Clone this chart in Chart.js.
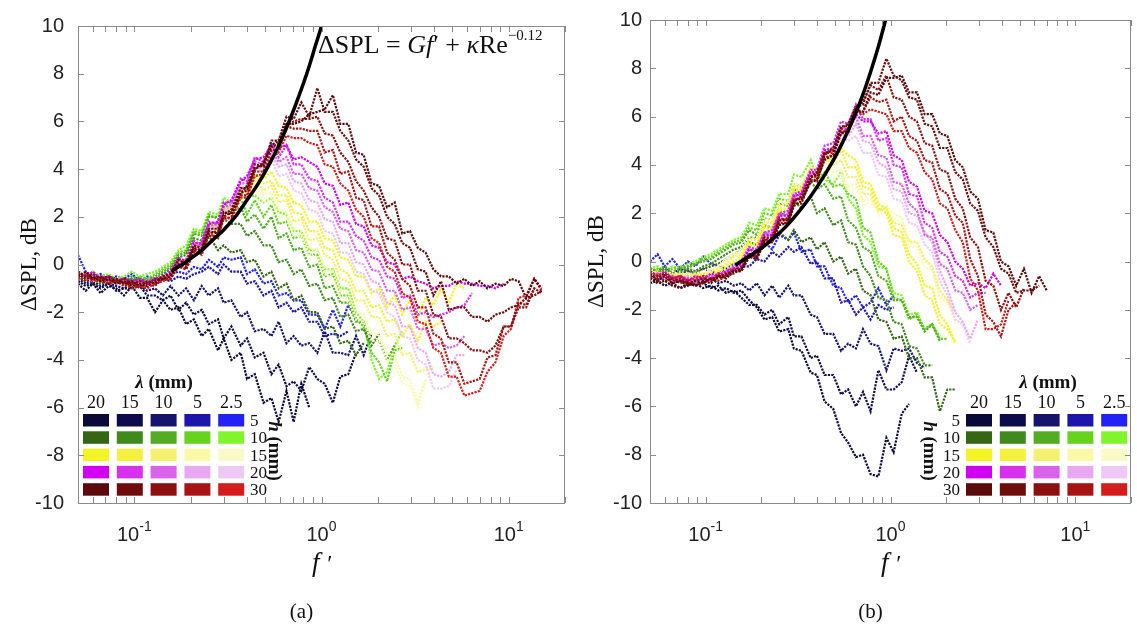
<!DOCTYPE html>
<html>
<head>
<meta charset="utf-8">
<script src="https://cdn.jsdelivr.net/npm/chart.js@4.4.1/dist/chart.umd.min.js"></script>
<style>
  body { margin: 0; background: #fff; }
  #wrap { position: relative; width: 1137px; height: 625px; }
  canvas { position: absolute; top: 0; }
</style>
</head>
<body>
<div id="wrap">
  <canvas id="chartA" width="575" height="625" style="left:0"></canvas>
  <canvas id="chartB" width="562" height="625" style="left:575px"></canvas>
</div>
<script>
// f' sample points shared by every measured curve
var fGrid = [0.05,0.055,0.06,0.066,0.073,0.08,0.088,0.097,0.107,0.117,0.129,0.142,0.156,0.172,0.189,0.208,0.229,0.25,0.28,0.30,0.33,0.37,0.40,0.44,0.49,0.54,0.59,0.65,0.71,0.78,0.86,0.95,1.04,1.15,1.26,1.39,1.53,1.68,1.85,2.03,2.24,2.46,2.7,2.97,3.27,3.6,3.96,4.35,4.79,5.27,5.8,6.37,7.0,7.7,8.5,9.4,10.3,11.3,12.4,13.7,15.0];

var lambdaLabels = ['20', '15', '10', '5', '2.5'];
var hLabels = ['5', '10', '15', '20', '30'];
var xTickVals = [0.05,0.06,0.07,0.08,0.09,0.1,0.2,0.3,0.4,0.5,0.6,0.7,0.8,0.9,1,2,3,4,5,6,7,8,9,10,20];
var xLabelVals = [0.1, 1, 10];
var xLabelExp = ['-1', '0', '1'];

// ---- panel (a) ----
var a_h5_l20 = [-0.8,-1.1,-0.8,-1.2,-0.9,-1.0,-1.3,-0.9,-1.4,-1.4,-2.0,-1.5,-1.9,-1.8,-2.5,-2.3,-3.0,-2.7,-3.6,-3.1,-4.0,-3.7,-4.8,-4.6,-5.8,-5.6,-6.6,-5.3,-6.6,-5.0,-6.0];
var a_h5_l15 = [-0.7,-0.9,-0.8,-1.0,-0.8,-1.1,-1.0,-1.0,-0.9,-1.3,-1.3,-1.5,-1.3,-1.9,-1.6,-2.1,-1.9,-2.5,-2.3,-3.1,-2.6,-3.4,-3.1,-3.9,-3.7,-4.6,-4.2,-5.1,-4.9,-5.3,-4.3,-4.8,-5.0,-5.8,-4.7,-4.6,-3.7];
var a_h5_l10 = [-0.6,-0.8,-0.7,-0.9,-0.8,-0.9,-1.0,-0.8,-0.9,-1.1,-1.0,-1.3,-0.9,-1.3,-1.0,-1.5,-0.9,-1.3,-1.0,-1.6,-1.5,-2.2,-2.0,-2.8,-2.7,-3.0,-2.4,-3.3,-3.0,-3.4,-3.3,-3.7,-2.8,-3.7,-3.7,-3.8,-3.0,-3.8,-2.9];
var a_h5_l5 = [-0.5,-0.6,-0.4,-0.7,-0.5,-0.6,-0.8,-0.6,-0.7,-0.6,-0.8,-0.6,-0.7,-0.5,-0.6,-0.4,-0.3,-0.1,-0.4,0.0,-0.3,-0.3,-0.8,-0.7,-1.3,-1.1,-1.8,-1.6,-2.0,-1.8,-2.4,-2.4,-3.0,-2.9,-3.0,-2.8];
var a_h5_l25 = [0.4,-0.3,-0.5,-0.4,-0.6,-0.5,-0.6,-0.4,-0.7,-0.5,-0.6,-0.5,-0.4,-0.3,-0.4,-0.1,-0.2,0.2,-0.1,0.3,0.2,0.3,-0.4,-0.2,-0.8,-0.7,-1.3,-1.2,-1.5,-1.5,-2.1,-2.1,-2.7,-1.9,-2.6,-1.7,-2.3];

var a_h10_l20 = [-0.5,-0.7,-0.6,-0.8,-0.7,-0.8,-0.6,-0.7,-0.9,-0.7,-0.8,-0.6,-0.4,0.1,0.2,0.8,0.7,1.2,0.6,0.8,0.5,0.6,0.1,0.2,-0.5,-0.3,-1.0,-0.8,-1.5,-1.3,-2.0,-2.0,-2.7,-2.6,-3.3,-3.2,-3.8,-3.3];
var a_h10_l15 = [-0.4,-0.6,-0.5,-0.7,-0.6,-0.7,-0.8,-0.6,-0.7,-0.8,-0.6,-0.4,-0.2,0.3,0.4,1.1,1.0,1.7,1.6,1.9,1.7,1.7,1.2,1.4,0.8,0.8,0.1,0.2,-0.4,-0.2,-0.9,-0.8,-1.5,-1.4,-2.2,-2.1,-2.8,-2.7,-3.4,-2.9];
var a_h10_l10 = [-0.3,-0.5,-0.4,-0.6,-0.5,-0.6,-0.7,-0.5,-0.6,-0.7,-0.5,-0.3,-0.1,0.4,0.5,1.3,1.2,2.0,2.0,2.3,2.2,2.4,1.8,2.1,1.5,2.0,1.1,1.3,0.6,0.7,-0.1,0.0,-1.0,-0.9,-1.6,-1.6,-2.4,-2.4,-3.2,-3.2,-4.0,-3.4];
var a_h10_l5 = [-0.5,-0.4,-0.6,-0.5,-0.7,-0.6,-0.6,-0.7,-0.5,-0.6,-0.4,-0.2,0.0,0.5,0.6,1.4,1.3,2.1,1.9,2.6,2.3,2.8,2.1,2.7,2.0,2.5,1.7,1.8,1.1,1.2,0.4,0.4,-0.5,-0.4,-1.3,-1.3,-2.3,-2.6,-3.7,-4.1,-4.9,-3.6,-3.5];
var a_h10_l25 = [-0.4,-0.6,-0.3,-0.5,-0.4,-0.6,-0.5,-0.3,-0.5,-0.4,-0.3,-0.1,0.1,0.6,0.8,1.5,1.4,2.2,2.1,2.8,2.6,2.8,2.8,2.9,2.6,2.8,2.2,2.1,1.4,1.4,0.6,0.6,-0.2,-0.2,-1.0,-1.0,-2.0,-2.4,-4.0,-4.8,-4.5,-3.4,-2.8];

var a_h15_l20 = [-0.5,-0.4,-0.6,-0.5,-0.7,-0.6,-0.7,-0.8,-0.7,-0.8,-0.6,-0.5,-0.4,0.1,0.2,0.9,0.8,1.6,1.7,2.4,2.4,3.2,3.1,3.8,3.6,3.9,3.3,3.2,2.6,2.5,1.8,1.8,1.1,1.0,0.3,0.2,-0.5,-0.5,-1.2,-1.0,-1.8,-1.3,-2.1,-1.5,-2.2,-1.4,-1.7,-1.0,-1.6,-0.8,-1.0];
var a_h15_l15 = [-0.4,-0.6,-0.5,-0.7,-0.6,-0.8,-0.7,-0.9,-0.8,-0.7,-0.7,-0.5,-0.4,0.2,0.2,0.8,0.9,1.5,1.6,2.3,2.4,3.1,3.2,3.7,3.4,3.5,2.9,2.9,2.2,2.1,1.4,1.4,0.7,0.6,-0.2,-0.4,-1.1,-1.1,-1.8,-1.7,-2.4,-2.3,-3.0,-2.5,-3.2,-2.4,-2.6,-2.4];
var a_h15_l10 = [-0.6,-0.5,-0.7,-0.6,-0.6,-0.7,-0.8,-0.7,-0.9,-0.8,-0.7,-0.6,-0.5,0.1,0.0,0.7,0.8,1.4,1.5,2.2,2.3,3.0,3.0,3.6,3.1,3.3,2.6,2.7,1.8,1.9,1.0,1.1,0.4,0.2,-0.6,-0.7,-1.5,-1.5,-2.2,-2.2,-3.0,-2.9,-3.8,-3.7,-4.5,-4.4,-4.3];
var a_h15_l5 = [-0.4,-0.6,-0.5,-0.6,-0.7,-0.8,-0.7,-0.8,-0.8,-0.9,-0.7,-0.6,-0.5,0.1,-0.1,0.7,0.6,1.4,1.4,2.1,2.1,2.9,2.8,3.4,2.9,3.0,2.3,2.2,1.5,1.4,0.7,0.6,-0.1,-0.3,-1.1,-1.2,-2.0,-2.1,-2.9,-2.9,-3.7,-3.8,-4.7,-4.8,-5.8,-4.8];
var a_h15_l25 = [-0.5,-0.5,-0.6,-0.7,-0.6,-0.7,-0.9,-0.8,-0.8,-0.8,-0.8,-0.6,-0.5,0.0,-0.1,0.6,0.6,1.3,1.3,2.0,2.0,2.8,2.7,3.2,2.6,2.8,2.0,2.0,1.2,1.2,0.4,0.3,-0.4,-0.6,-1.4,-1.5,-2.3,-2.4,-3.2,-3.2,-4.0,-4.1,-5.0,-5.1,-6.0,-5.0];

var a_h20_l20 = [-0.4,-0.5,-0.3,-0.6,-0.5,-0.7,-0.6,-0.7,-0.6,-0.8,-0.6,-0.5,-0.3,0.2,0.2,0.9,0.9,1.7,1.8,2.5,2.7,3.5,3.7,4.4,4.5,5.0,4.9,5.0,4.4,4.5,4.3,4.1,3.4,3.3,2.5,2.6,1.7,1.6,0.8,0.7,0.1,0.0,-0.6,-0.5,-0.7,-0.8,-1.0,-0.9,-0.9,-0.7,-0.8,-0.8,-0.9,-0.9,-1.0,-0.8];
var a_h20_l15 = [-0.5,-0.4,-0.6,-0.5,-0.6,-0.8,-0.7,-0.8,-0.7,-0.8,-0.7,-0.5,-0.4,0.3,0.1,1.0,0.8,1.8,1.7,2.6,2.6,3.6,3.5,4.5,4.3,5.1,4.5,5.0,4.2,4.2,3.6,3.5,2.8,2.6,1.8,1.8,1.2,1.0,0.3,0.2,-0.5,-0.6,-1.4,-1.3,-2.1,-2.0,-2.2,-2.1,-2.0,-1.8,-1.7,-1.2];
var a_h20_l10 = [-0.3,-0.5,-0.4,-0.6,-0.7,-0.6,-0.8,-0.7,-0.9,-0.7,-0.6,-0.6,-0.4,0.1,0.1,0.8,0.8,1.6,1.7,2.4,2.5,3.4,3.4,4.3,4.2,4.8,4.3,4.5,3.8,3.8,3.2,3.1,2.4,2.2,1.5,1.4,0.6,0.5,-0.2,-0.3,-1.1,-1.1,-1.9,-1.8,-2.7,-2.7,-3.4,-3.3,-3.5,-3.4,-3.0];
var a_h20_l5 = [-0.5,-0.6,-0.5,-0.7,-0.6,-0.8,-0.7,-0.8,-0.8,-0.9,-0.7,-0.5,-0.5,0.2,0.0,0.8,0.7,1.5,1.6,2.3,2.4,3.2,3.3,4.1,4.0,4.6,4.1,4.2,3.5,3.4,2.7,2.6,1.9,1.8,0.9,0.9,0.1,0.0,-0.7,-0.8,-1.6,-1.7,-2.6,-2.6,-3.5,-3.7,-4.6,-4.7,-4.5,-3.8,-3.8];
var a_h20_l25 = [-0.4,-0.5,-0.7,-0.6,-0.7,-0.7,-0.8,-0.9,-0.8,-0.8,-0.7,-0.6,-0.5,0.1,0.0,0.7,0.7,1.4,1.5,2.2,2.3,3.2,3.1,4.0,3.9,4.4,3.7,3.8,3.1,3.0,2.3,2.2,1.4,1.3,0.5,0.5,-0.3,-0.4,-1.1,-1.2,-2.0,-2.2,-3.0,-3.1,-4.0,-4.2,-5.2,-5.2,-5.1,-4.4];

var a_h30_l20 = [-0.4,-0.6,-0.5,-0.7,-0.6,-0.8,-0.7,-0.9,-0.8,-0.9,-0.7,-0.6,-0.5,0.0,0.0,0.7,0.6,1.4,1.3,2.2,2.1,3.0,3.1,4.0,4.2,5.0,5.2,5.9,5.9,6.0,6.3,6.4,6.5,7.1,5.9,5.9,4.7,4.6,3.4,3.3,2.4,2.6,1.3,1.4,0.7,0.5,-0.2,-0.5,-0.5,-0.8,-0.6,-0.9,-0.7,-1.0,-0.8,-0.9,-0.6,-0.7,-1.4,-0.6,-1.0];
var a_h30_l15 = [-0.5,-0.3,-0.6,-0.5,-0.7,-0.6,-0.8,-0.7,-0.9,-0.7,-0.8,-0.5,-0.4,0.2,0.0,0.8,0.7,1.5,1.5,2.1,2.3,3.2,3.2,4.2,4.1,5.2,5.2,6.2,6.1,6.8,6.2,7.4,6.4,6.4,5.6,5.2,4.4,4.1,3.2,2.9,2.0,1.7,0.9,0.7,-0.2,-0.3,-1.3,-0.7,-1.9,-1.8,-1.8,-2.2,-2.2,-2.4,-2.1,-2.0,-1.8,-1.7,-1.4,-1.3,-1.1];
var a_h30_l10 = [-0.3,-0.5,-0.4,-0.6,-0.5,-0.7,-0.6,-0.8,-0.7,-0.8,-0.6,-0.6,-0.5,0.0,-0.1,0.6,0.6,1.3,1.4,2.0,2.2,3.0,3.3,4.0,4.3,4.9,5.1,5.8,6.0,6.1,6.1,6.2,5.5,5.4,4.7,4.3,3.5,3.1,2.4,2.0,1.1,1.0,0.0,0.0,-1.1,-1.1,-2.1,-2.2,-3.1,-3.1,-3.3,-3.6,-3.6,-3.7,-3.4,-2.6,-2.6,-1.8,-1.8,-1.0,-1.2];
var a_h30_l5 = [-0.5,-0.7,-0.6,-0.7,-0.8,-0.7,-0.9,-0.8,-1.0,-0.8,-0.9,-0.6,-0.6,-0.1,-0.2,0.5,0.5,1.2,1.2,1.9,2.0,2.9,2.9,3.9,3.9,4.8,4.8,5.8,5.7,5.7,5.6,5.6,4.7,4.8,3.8,3.9,2.8,2.7,1.6,1.6,0.5,0.2,-0.6,-0.9,-1.8,-1.8,-2.9,-3.1,-4.1,-4.1,-5.0,-4.9,-4.8,-3.9,-3.8,-2.6,-2.6,-1.6,-1.7,-1.0];
var a_h30_l25 = [-0.6,-0.4,-0.7,-0.6,-0.8,-0.7,-0.8,-1.0,-0.9,-1.0,-0.8,-0.7,-0.6,0.0,-0.2,0.6,0.4,1.3,1.1,2.0,1.9,2.8,2.8,3.7,3.8,4.5,4.7,5.4,5.3,5.3,5.1,5.0,4.2,4.1,3.4,3.1,2.3,2.0,1.1,0.9,-0.1,-0.3,-1.2,-1.4,-2.4,-2.5,-3.5,-3.7,-4.7,-4.7,-5.5,-5.4,-5.3,-4.5,-4.1,-3.0,-2.7,-1.4,-1.3,-0.6,-1.1];

// fitted curve
var aCurveF = [0.159,0.18,0.2,0.23,0.26,0.3,0.35,0.4,0.46,0.53,0.6,0.68,0.76,0.85,0.93,1.0,1.06];
var aCurveS = [-0.27,0.0,0.25,0.6,1.0,1.45,2.05,2.7,3.4,4.25,5.1,6.1,7.1,8.2,9.2,10.0,10.8];

// ---- panel (b) ----
var b_h5_l20 = [-0.9,-0.8,-1.0,-0.9,-1.1,-1.0,-0.9,-1.1,-1.0,-1.2,-1.1,-1.3,-1.2,-1.6,-1.9,-2.4,-2.3,-2.9,-2.8,-3.6,-3.7,-4.6,-4.7,-5.8,-6.1,-7.1,-7.5,-8.1,-8.0,-8.8,-8.9,-7.3,-7.9,-6.3,-5.9];
var b_h5_l15 = [-0.7,-0.8,-0.6,-0.9,-0.8,-0.9,-1.0,-0.9,-1.1,-1.0,-1.3,-1.2,-1.5,-1.8,-1.8,-2.2,-2.0,-2.6,-2.3,-3.1,-3.1,-4.0,-3.9,-4.7,-4.7,-5.5,-5.3,-6.0,-5.4,-6.2,-4.5,-5.3,-5.3,-5.0,-3.9,-4.6];
var b_h5_l10 = [-0.6,-0.5,-0.7,-0.6,-0.8,-0.7,-0.6,-0.8,-0.7,-0.9,-0.8,-1.0,-0.9,-1.2,-0.9,-1.4,-1.0,-1.5,-1.0,-1.4,-1.4,-2.2,-2.3,-3.0,-3.0,-3.7,-3.4,-3.6,-2.8,-3.4,-3.5,-4.5,-3.6,-3.7,-3.6,-4.2,-4.4];
var b_h5_l5 = [-0.3,-0.4,-0.2,-0.5,-0.3,-0.4,-0.5,-0.3,-0.4,-0.5,-0.3,-0.4,-0.2,-0.2,0.1,0.0,0.4,0.2,0.6,0.4,0.6,-0.1,0.0,-0.7,-0.7,-1.7,-1.6,-2.2,-1.9,-2.4,-1.8,-2.0,-1.9];
var b_h5_l25 = [0.0,0.3,-0.2,0.1,-0.3,0.0,-0.2,0.2,-0.1,-0.2,-0.3,-0.1,0.0,0.3,0.2,0.8,0.5,1.1,0.9,1.2,0.4,0.5,-0.2,-0.2,-1.0,-1.1,-1.7,-1.4,-1.9,-1.7,-1.1,-1.8,-1.4];

var b_h10_l20 = [-0.5,-0.6,-0.4,-0.6,-0.5,-0.4,-0.5,-0.3,-0.2,-0.1,0.1,0.3,0.5,0.8,0.7,1.2,1.0,1.2,0.9,1.3,0.8,1.0,0.5,0.8,0.0,0.2,-0.5,-0.3,-1.2,-1.4,-2.4,-2.5,-3.2,-3.1,-4.0,-4.0,-4.8,-4.8,-6.2,-5.3,-5.3];
var b_h10_l15 = [-0.4,-0.5,-0.3,-0.5,-0.4,-0.3,-0.4,-0.2,-0.1,0.1,0.3,0.5,0.6,1.0,1.0,1.5,1.4,2.0,1.9,2.5,2.2,2.7,2.0,2.2,1.5,1.7,0.8,0.7,-0.2,-0.6,-1.5,-1.6,-2.5,-2.6,-3.5,-3.6,-4.3,-4.3];
var b_h10_l10 = [-0.3,-0.4,-0.2,-0.4,-0.3,-0.2,-0.1,0.0,0.1,0.3,0.5,0.7,0.8,1.3,1.1,1.8,1.7,2.4,2.3,3.0,2.8,3.3,3.0,3.2,2.6,2.7,1.7,1.4,0.6,0.4,-0.6,-0.8,-1.6,-1.6,-2.3,-2.3,-2.9,-2.6,-3.3];
var b_h10_l5 = [-0.4,-0.3,-0.5,-0.3,-0.2,-0.3,-0.1,0.1,0.2,0.4,0.6,0.8,0.9,1.4,1.3,2.0,1.9,2.6,2.5,3.2,3.1,3.6,3.4,3.7,3.1,3.2,2.8,2.6,1.4,1.2,0.0,-0.3,-1.5,-1.6,-2.4,-2.2,-2.8,-2.6,-3.2,-3.2];
var b_h10_l25 = [-0.3,-0.2,-0.4,-0.2,-0.3,-0.1,0.0,0.2,0.3,0.5,0.7,0.9,1.0,1.6,1.5,2.2,2.1,2.8,2.8,3.6,3.5,4.2,3.4,3.4,3.2,3.7,2.6,2.2,1.1,0.8,-0.2,-0.3,-1.3,-1.4,-2.2,-2.1,-2.8,-2.6,-3.1];

var b_h15_l20 = [-0.5,-0.4,-0.6,-0.5,-0.7,-0.6,-0.5,-0.7,-0.5,-0.4,-0.3,-0.1,0.1,0.7,0.6,1.4,1.3,2.1,2.1,2.9,2.9,3.7,3.6,4.4,4.2,4.7,4.4,4.2,3.3,3.2,2.4,2.2,1.4,1.2,0.3,-0.1,-1.0,-1.1,-2.2,-2.6,-3.4];
var b_h15_l15 = [-0.6,-0.5,-0.7,-0.6,-0.5,-0.7,-0.6,-0.5,-0.6,-0.4,-0.2,0.0,0.2,0.8,0.7,1.5,1.4,2.2,2.2,3.0,3.0,3.8,3.7,4.4,4.1,4.6,3.9,3.9,3.1,3.0,2.2,2.0,1.1,1.0,0.0,-0.4,-1.4,-1.6,-2.6,-2.8,-3.3];
var b_h15_l10 = [-0.4,-0.6,-0.5,-0.6,-0.7,-0.5,-0.6,-0.5,-0.4,-0.3,-0.1,0.2,0.3,0.9,0.9,1.6,1.6,2.3,2.4,3.1,3.1,3.9,3.8,4.3,4.0,4.2,3.5,3.5,2.8,2.8,2.1,2.2,1.6,1.5,0.8,0.8,0.1,-0.2,-1.2,-1.6,-2.1];
var b_h15_l5 = [-0.5,-0.6,-0.4,-0.6,-0.5,-0.6,-0.7,-0.5,-0.4,-0.2,0.0,0.3,0.4,1.0,0.9,1.7,1.7,2.4,2.5,3.2,3.2,3.9,3.7,4.2,3.7,3.8,3.1,3.2,2.5,2.6,2.1,2.3,2.0,1.8,0.9,0.8,0.1,-0.3,-1.5,-1.7,-2.3];
var b_h15_l25 = [-0.4,-0.5,-0.6,-0.4,-0.6,-0.5,-0.5,-0.4,-0.3,-0.2,0.1,0.3,0.5,1.1,1.0,1.8,1.7,2.5,2.5,3.2,3.1,3.8,3.5,4.0,3.5,3.6,2.9,3.0,2.3,2.5,1.9,2.2,1.8,1.6,0.6,0.6,-0.2,-0.4,-1.4,-1.6,-2.6];

var b_h20_l20 = [-0.5,-0.6,-0.4,-0.7,-0.6,-0.8,-0.6,-0.7,-0.5,-0.6,-0.4,-0.3,-0.1,0.5,0.4,1.1,1.1,1.9,1.9,2.7,2.8,3.7,3.7,4.6,4.7,5.5,5.5,6.1,5.8,5.8,5.3,5.4,4.4,4.2,3.3,3.1,2.1,2.0,1.1,0.8,0.0,-0.3,-1.0,-0.9,-1.1,-0.5,-1.0];
var b_h20_l15 = [-0.6,-0.5,-0.7,-0.6,-0.8,-0.7,-0.8,-0.6,-0.7,-0.5,-0.5,-0.2,0.0,0.6,0.5,1.2,1.3,2.0,2.1,2.8,2.9,3.8,3.8,4.8,4.9,5.8,5.7,6.5,5.9,5.9,5.0,5.1,4.0,3.9,2.8,2.7,1.6,1.4,0.4,0.2,-0.6,-0.8,-1.5,-1.3,-1.3];
var b_h20_l10 = [-0.4,-0.6,-0.5,-0.7,-0.6,-0.7,-0.9,-0.7,-0.6,-0.6,-0.4,-0.3,-0.1,0.5,0.4,1.2,1.2,1.9,2.0,2.7,2.8,3.6,3.7,4.6,4.7,5.5,5.4,6.0,5.2,5.2,4.4,4.3,3.3,3.2,2.4,2.1,1.1,1.0,-0.1,-0.3,-1.2,-1.3,-2.0,-1.8];
var b_h20_l5 = [-0.5,-0.7,-0.6,-0.8,-0.7,-0.6,-0.8,-0.6,-0.7,-0.5,-0.4,-0.2,0.0,0.6,0.4,1.2,1.1,1.9,1.9,2.8,2.7,3.6,3.6,4.5,4.6,5.3,5.2,5.7,5.0,4.9,4.1,3.9,3.0,2.9,2.0,1.9,1.2,0.8,-0.4,-1.1,-2.1,-2.5,-3.2,-2.4];
var b_h20_l25 = [-0.6,-0.5,-0.7,-0.6,-0.7,-0.8,-0.7,-0.8,-0.6,-0.6,-0.5,-0.3,-0.1,0.5,0.4,1.1,1.0,1.8,1.8,2.6,2.6,3.5,3.5,4.4,4.4,5.1,5.0,5.2,4.5,4.5,3.6,3.5,2.6,2.5,1.6,1.5,0.7,0.4,-0.8,-1.4,-2.4,-2.6,-3.4];

var b_h30_l20 = [-0.7,-0.9,-0.8,-1.0,-1.1,-0.9,-1.0,-0.8,-0.9,-0.6,-0.7,-0.4,-0.4,0.2,0.1,0.8,0.8,1.5,1.6,2.3,2.5,3.3,3.4,4.2,4.4,5.3,5.4,6.2,6.2,7.0,6.9,7.6,7.6,7.7,7.0,7.0,6.1,6.1,5.3,5.2,4.2,3.9,2.9,2.6,1.3,1.2,0.0,-0.2,-1.0,-0.3,-1.3,-0.6,-1.2];
var b_h30_l15 = [-0.5,-0.8,-0.6,-0.9,-0.8,-1.0,-0.8,-0.9,-0.7,-0.7,-0.5,-0.4,-0.3,0.3,0.2,0.9,0.9,1.7,1.7,2.5,2.6,3.5,3.6,4.5,4.6,5.6,5.6,6.4,6.5,7.4,7.4,8.4,7.7,7.5,6.8,6.7,5.7,5.6,4.7,4.7,3.7,3.4,2.4,2.1,1.0,0.6,-0.3,-0.5,-1.3,-1.2,-1.2,-1.0];
var b_h30_l10 = [-0.6,-0.7,-0.5,-0.8,-0.7,-0.9,-0.8,-0.7,-0.8,-0.6,-0.6,-0.5,-0.3,0.3,0.2,1.0,1.0,1.7,1.8,2.5,2.7,3.5,3.7,4.4,4.7,5.5,5.7,6.4,6.6,7.3,7.1,7.7,6.8,6.7,6.0,5.8,4.9,4.8,3.8,3.7,2.6,2.2,1.0,0.6,-0.8,-1.0,-2.0,-1.3,-1.9,-1.1];
var b_h30_l5 = [-0.7,-0.6,-0.8,-0.7,-0.9,-0.8,-1.0,-0.9,-0.7,-0.8,-0.6,-0.4,-0.4,0.2,0.1,0.9,0.8,1.6,1.6,2.4,2.4,3.4,3.3,4.3,4.4,5.4,5.3,6.3,6.2,6.8,6.6,6.7,5.8,6.0,5.2,5.0,4.2,4.1,3.0,2.8,1.9,1.6,0.1,-0.6,-2.2,-2.5,-3.1,-2.0,-1.7];
var b_h30_l25 = [-0.4,-0.6,-0.5,-0.7,-0.6,-0.8,-0.7,-0.6,-0.8,-0.5,-0.6,-0.3,-0.3,0.3,0.3,1.0,0.9,1.8,1.7,2.6,2.6,3.5,3.5,4.5,4.5,5.3,5.5,6.2,6.1,6.3,6.2,6.1,5.4,5.4,4.7,4.5,3.7,3.4,2.4,2.2,1.3,0.8,-0.7,-1.2,-2.8,-2.8,-2.6,-1.6];

// fitted curve
var bCurveF = [0.145,0.17,0.2,0.24,0.28,0.33,0.37,0.45,0.52,0.6,0.7,0.78,0.86,0.94,1.0];
var bCurveS = [-0.15,0.2,0.55,1.05,1.55,2.2,2.7,3.7,4.55,5.55,6.8,7.85,8.9,10.0,10.8];

var palette = [
  ['#0a0a3a', '#0c0c4c', '#14146e', '#1c16aa', '#2222f6'],
  ['#346614', '#3f8a1c', '#52ad22', '#66d41e', '#80f52c'],
  ['#f4f424', '#f5ef40', '#f5f06e', '#f9f9a8', '#fafac8'],
  ['#d200f0', '#d830ef', '#d862ec', '#e8a8f2', '#f0c8f5'],
  ['#5a0a0a', '#6e0c0c', '#8c1010', '#a81414', '#d41c1c']
];

var panelA = [
  [a_h5_l20, a_h5_l15, a_h5_l10, a_h5_l5, a_h5_l25],
  [a_h10_l20, a_h10_l15, a_h10_l10, a_h10_l5, a_h10_l25],
  [a_h15_l20, a_h15_l15, a_h15_l10, a_h15_l5, a_h15_l25],
  [a_h20_l20, a_h20_l15, a_h20_l10, a_h20_l5, a_h20_l25],
  [a_h30_l20, a_h30_l15, a_h30_l10, a_h30_l5, a_h30_l25]
];
var panelB = [
  [b_h5_l20, b_h5_l15, b_h5_l10, b_h5_l5, b_h5_l25],
  [b_h10_l20, b_h10_l15, b_h10_l10, b_h10_l5, b_h10_l25],
  [b_h15_l20, b_h15_l15, b_h15_l10, b_h15_l5, b_h15_l25],
  [b_h20_l20, b_h20_l15, b_h20_l10, b_h20_l5, b_h20_l25],
  [b_h30_l20, b_h30_l15, b_h30_l10, b_h30_l5, b_h30_l25]
];

var SERIF = '"Liberation Serif", "Times New Roman", serif';
var SANS = '"Liberation Sans", Arial, sans-serif';

// draw a run of differently styled text pieces, left-aligned or centred on x
function drawRich(ctx, x, y, parts, align) {
  var total = 0;
  ctx.textAlign = 'left';
  parts.forEach(function(p) { ctx.font = p.f; total += ctx.measureText(p.t).width; });
  if (align === 'center') x -= total / 2;
  parts.forEach(function(p) {
    ctx.font = p.f;
    ctx.fillText(p.t, x, y + (p.dy || 0));
    x += ctx.measureText(p.t).width;
  });
}

var decor = {
  id: 'decor',
  afterDatasetsDraw: function(chart, args, o) {
    var ctx = chart.ctx;
    ctx.save();
    ctx.translate(-o.offset, 0);
    ctx.fillStyle = '#111';
    ctx.textBaseline = 'alphabetic';

    // legend grid: lambda columns x h rows
    drawRich(ctx, o.lgTitleX, 388, [
      {t: 'λ', f: 'bold italic 19px ' + SERIF},
      {t: ' (mm)', f: 'bold 19px ' + SERIF}
    ], 'center');
    ctx.font = '18px ' + SERIF;
    ctx.textAlign = 'center';
    for (var c = 0; c < 5; c++) {
      var sx = o.lgX + c * 33.8;
      ctx.fillStyle = '#111';
      ctx.fillText(lambdaLabels[c], sx + 13, 408);
      for (var r = 0; r < 5; r++) {
        ctx.fillStyle = palette[r][c];
        ctx.fillRect(sx, 414 + r * 17.3, 26, 12.5);
      }
    }
    ctx.fillStyle = '#111';
    ctx.font = '17px ' + SERIF;
    ctx.textAlign = o.rowAlign;
    for (var r2 = 0; r2 < 5; r2++) {
      ctx.fillText(hLabels[r2], o.rowX, 426 + r2 * 17.3);
    }
    ctx.save();
    ctx.translate(o.hX, 451);
    ctx.rotate(Math.PI / 2);
    drawRich(ctx, 0, 0, [
      {t: 'h', f: 'bold italic 19px ' + SERIF},
      {t: ' (mm)', f: 'bold 19px ' + SERIF}
    ], 'center');
    ctx.restore();
    ctx.restore();
  },
  afterDraw: function(chart, args, o) {
    var ctx = chart.ctx, a = chart.chartArea, x = chart.scales.x, y = chart.scales.y;
    ctx.save();
    // frame with inward ticks
    ctx.strokeStyle = '#8a8a8a';
    ctx.lineWidth = 1;
    ctx.strokeRect(Math.round(a.left) + 0.5, Math.round(a.top) + 0.5, Math.round(a.right - a.left) - 1, Math.round(a.bottom - a.top));
    ctx.beginPath();
    xTickVals.forEach(function(v) {
      var px = Math.round(x.getPixelForValue(v)) + 0.5;
      ctx.moveTo(px, a.bottom); ctx.lineTo(px, a.bottom - 6);
      ctx.moveTo(px, a.top); ctx.lineTo(px, a.top + 6);
    });
    for (var v = -8; v <= 8; v += 2) {
      var py = Math.round(y.getPixelForValue(v)) + 0.5;
      ctx.moveTo(a.left, py); ctx.lineTo(a.left + 6, py);
      ctx.moveTo(a.right, py); ctx.lineTo(a.right - 6, py);
    }
    ctx.stroke();

    // x tick labels with exponents
    ctx.fillStyle = '#222';
    xLabelVals.forEach(function(v, i) {
      drawRich(ctx, x.getPixelForValue(v), 541, [
        {t: '10', f: '20px ' + SANS},
        {t: xLabelExp[i], f: '14px ' + SANS, dy: -10}
      ], 'center');
    });
    // x title and caption
    var mid = x.getPixelForValue(1);
    ctx.fillStyle = '#111';
    drawRich(ctx, mid, 571, [
      {t: 'f', f: 'italic 27px ' + SERIF},
      {t: ' \u2032', f: 'italic 24px ' + SERIF}
    ], 'center');
    ctx.font = '21px ' + SERIF;
    ctx.textAlign = 'center';
    ctx.fillText(o.caption, mid - 20, 618);

    // model equation
    drawRich(ctx, o.eqX, 53, [
      {t: 'ΔSPL = ', f: '26px ' + SERIF},
      {t: 'Gf', f: 'italic 26px ' + SERIF},
      {t: '\u2032 + ', f: '26px ' + SERIF},
      {t: 'κ', f: 'italic 26px ' + SERIF},
      {t: 'Re', f: '26px ' + SERIF},
      {t: '\u22120.12', f: '15px ' + SERIF, dy: -13}
    ]);
    ctx.restore();
  }
};

function buildDatasets(rows, curveF, curveS) {
  var sets = [];
  sets.push({
    data: curveF.map(function(f, i) { return {x: f, y: curveS[i]}; }),
    borderColor: '#000', borderWidth: 3.5, pointRadius: 0,
    cubicInterpolationMode: 'monotone', order: 0
  });
  rows.forEach(function(row, r) {
    row.forEach(function(vals, c) {
      sets.push({
        label: 'h=' + hLabels[r] + ' λ=' + lambdaLabels[c],
        data: vals.map(function(s, i) { return {x: fGrid[i], y: s}; }),
        borderColor: palette[r][c],
        borderWidth: 2.2,
        borderDash: [2.2, 1.2],
        pointRadius: 0,
        tension: 0,
        order: 5 - r
      });
    });
  });
  return sets;
}

function makePanel(id, rows, curveF, curveS, cfg) {
  return new Chart(document.getElementById(id), {
    type: 'line',
    data: { datasets: buildDatasets(rows, curveF, curveS) },
    options: {
      responsive: false,
      animation: false,
      events: [],
      layout: { padding: { top: 18, right: cfg.padRight, bottom: 0, left: 0 } },
      plugins: {
        legend: { display: false },
        tooltip: { enabled: false },
        decor: cfg.decor
      },
      scales: {
        x: {
          type: 'logarithmic', min: 0.05, max: 20,
          grid: { display: false }, border: { display: false },
          ticks: { display: false },
          afterFit: function(s) { s.height = 122; }
        },
        y: {
          min: -10, max: 10,
          grid: { display: false, drawTicks: false }, border: { display: false },
          ticks: { stepSize: 2, color: '#222', padding: cfg.tickPad, font: { family: SANS, size: 20 } },
          title: { display: true, text: 'ΔSPL, dB', color: '#111', font: { family: SERIF, size: 23 }, padding: { top: cfg.titlePad, bottom: 0 } },
          afterFit: function(s) { s.width = cfg.yWidth; }
        }
      }
    },
    plugins: [decor]
  });
}

makePanel('chartA', panelA, aCurveF, aCurveS, {
  padRight: 10, yWidth: 78, tickPad: 14, titlePad: 16,
  decor: { offset: 0, caption: '(a)', eqX: 318, lgX: 83, lgTitleX: 164, rowX: 250, rowAlign: 'left', hX: 269 }
});
makePanel('chartB', panelB, bCurveF, bCurveS, {
  padRight: 6, yWidth: 75, tickPad: 8, titlePad: 8,
  decor: { offset: 575, caption: '(b)', eqX: 891, lgX: 966, lgTitleX: 1048, rowX: 960, rowAlign: 'right', hX: 924 }
});
</script>
</body>
</html>
